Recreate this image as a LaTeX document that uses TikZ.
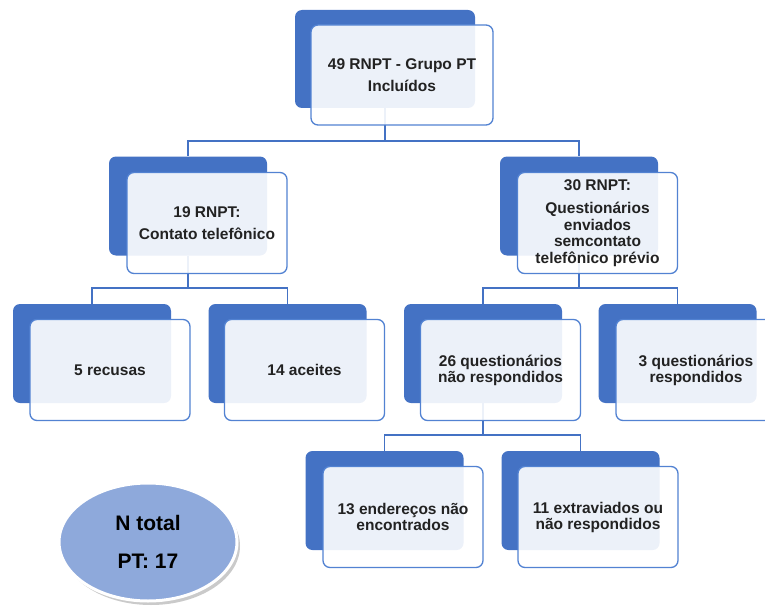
\documentclass[tikz,border=0pt]{standalone}
\usepackage{fontspec}
\setmainfont{Liberation Sans}
\usetikzlibrary{shapes.geometric,shadows}
\definecolor{bblue}{HTML}{4472C4}
\definecolor{fborder}{HTML}{5282D2}
\definecolor{ellfill}{HTML}{8EA9DB}
\definecolor{txt}{HTML}{222222}
\begin{document}
\begin{tikzpicture}[x=1pt,y=-1pt,
 backbox/.style={draw=none, fill=bblue, rounded corners=7pt, minimum width=158pt, minimum height=99pt, inner sep=0pt},
 frontbox/.style={draw=fborder, line width=1.3pt, fill=white, fill opacity=0.9, draw opacity=1, text opacity=1, rounded corners=7pt, minimum width=160pt, minimum height=101pt, inner sep=0pt, align=center, text=txt, font=\bfseries\fontsize{15.5}{22}\selectfont},
 lowbox/.style={frontbox, font=\bfseries\fontsize{15.5}{16}\selectfont},
 link/.style={draw=bblue, line width=1.5pt},
 totbox/.style={ellipse, fill=ellfill, draw=white, line width=3pt, minimum width=178pt, minimum height=118pt, inner sep=0pt, align=center, text=black, font=\bfseries\fontsize{21}{38}\selectfont, drop shadow={shadow xshift=3pt, shadow yshift=-4pt, opacity=0.35, fill=black!60}}
]
\useasboundingbox (0,0) rectangle (765,607);

% junctions
\coordinate (j0) at (385,141);
\coordinate (j1) at (188,288);
\coordinate (j2) at (579,288);
\coordinate (j3) at (483,435);

% back boxes
\node[backbox, minimum width=180pt, minimum height=98pt] (b0) at (385,59) {};
\node[backbox] (b1) at (188,206) {};
\node[backbox] (b2) at (579,206) {};
\node[backbox] (b3) at (92,353.5) {};
\node[backbox] (b4) at (287.5,353.5) {};
\node[backbox] (b5) at (483,353.5) {};
\node[backbox] (b6) at (677.5,353.5) {};
\node[backbox] (b7) at (384.5,500.5) {};
\node[backbox] (b8) at (580.5,500.5) {};

% connectors (drawn before front boxes so they show faintly through)
\draw[link] (b0.south) -- (j0) -| (b1.north);
\draw[link] (j0) -| (b2.north);
\draw[link] (b1.south) -- (j1) -| (b3.north);
\draw[link] (j1) -| (b4.north);
\draw[link] (b2.south) -- (j2) -| (b5.north);
\draw[link] (j2) -| (b6.north);
\draw[link] (b5.south) -- (j3) -| (b7.north);
\draw[link] (j3) -| (b8.north);

% front boxes
\node[frontbox, minimum width=182pt, minimum height=100pt] (f0) at (402,75) {49 RNPT - Grupo PT\\Incluídos};
\node[frontbox] (f1) at (207,223) {19 RNPT:\\Contato telefônico};
\node[frontbox, font=\bfseries\fontsize{15.5}{16.5}\selectfont] (f2) at (597.5,223) {30 RNPT:\\[6.5pt]Questionários\\enviados\\semcontato\\telefônico prévio};
\node[lowbox] (f3) at (110,370) {5 recusas};
\node[lowbox] (f4) at (304.5,370) {14 aceites};
\node[lowbox] (f5) at (500.5,370) {26 questionários\\não respondidos};
\node[lowbox] (f6) at (696,370) {3 questionários\\respondidos};
\node[lowbox] (f7) at (403,517) {13 endereços não\\encontrados};
\node[lowbox] (f8) at (598,517) {11 extraviados ou\\não respondidos};

% total ellipse
\node[totbox] (tot) at (148,542) {N total\\PT: 17};
\end{tikzpicture}
\end{document}
